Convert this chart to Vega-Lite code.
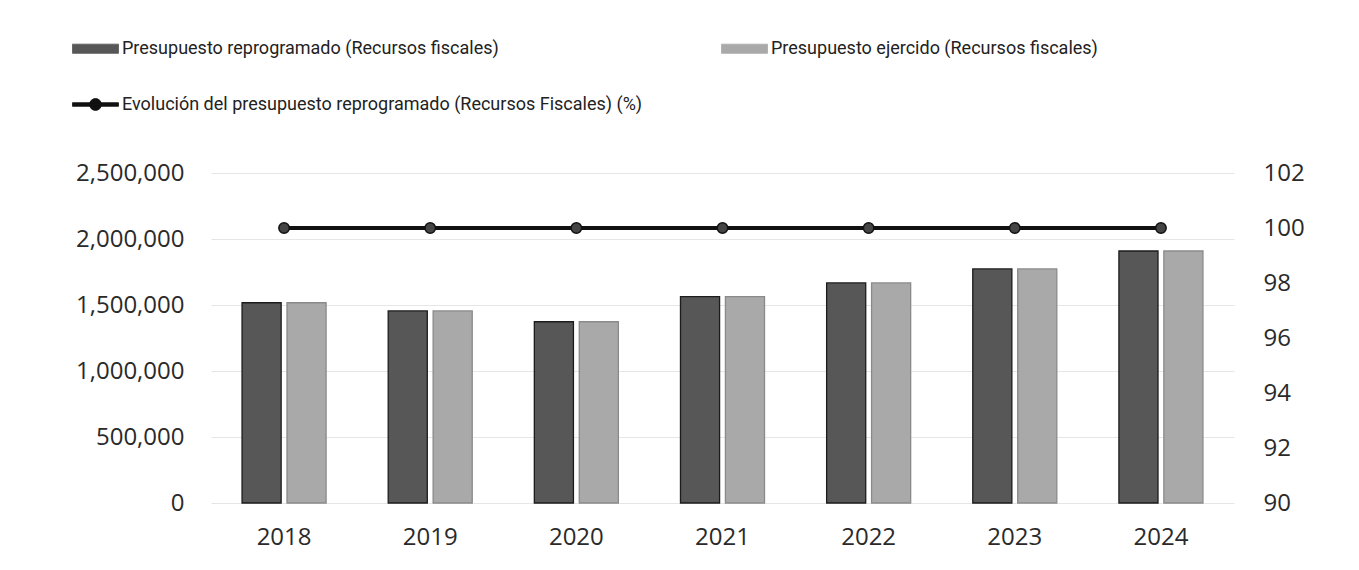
{
  "$schema": "https://vega.github.io/schema/vega-lite/v6.json",
  "width": 1023,
  "height": 330,
  "autosize": {"type": "none"},
  "padding": {"left": 211, "top": 173, "right": 125, "bottom": 67},
  "background": "white",
  "config": {
    "view": {"stroke": null},
    "font": "Roboto",
    "axis": {"labelFont": "Open Sans", "labelColor": "#2a2a2a", "domain": false, "ticks": false, "title": null}
  },
  "datasets": {
    "barras": [
      {"anio": "2018", "serie": "Presupuesto reprogramado (Recursos fiscales)", "valor": 1517000},
      {"anio": "2018", "serie": "Presupuesto ejercido (Recursos fiscales)", "valor": 1517000},
      {"anio": "2019", "serie": "Presupuesto reprogramado (Recursos fiscales)", "valor": 1455000},
      {"anio": "2019", "serie": "Presupuesto ejercido (Recursos fiscales)", "valor": 1455000},
      {"anio": "2020", "serie": "Presupuesto reprogramado (Recursos fiscales)", "valor": 1373000},
      {"anio": "2020", "serie": "Presupuesto ejercido (Recursos fiscales)", "valor": 1373000},
      {"anio": "2021", "serie": "Presupuesto reprogramado (Recursos fiscales)", "valor": 1563000},
      {"anio": "2021", "serie": "Presupuesto ejercido (Recursos fiscales)", "valor": 1563000},
      {"anio": "2022", "serie": "Presupuesto reprogramado (Recursos fiscales)", "valor": 1667000},
      {"anio": "2022", "serie": "Presupuesto ejercido (Recursos fiscales)", "valor": 1667000},
      {"anio": "2023", "serie": "Presupuesto reprogramado (Recursos fiscales)", "valor": 1773000},
      {"anio": "2023", "serie": "Presupuesto ejercido (Recursos fiscales)", "valor": 1773000},
      {"anio": "2024", "serie": "Presupuesto reprogramado (Recursos fiscales)", "valor": 1909000},
      {"anio": "2024", "serie": "Presupuesto ejercido (Recursos fiscales)", "valor": 1909000}
    ],
    "evolucion": [
      {"anio": "2018", "porcentaje": 100},
      {"anio": "2019", "porcentaje": 100},
      {"anio": "2020", "porcentaje": 100},
      {"anio": "2021", "porcentaje": 100},
      {"anio": "2022", "porcentaje": 100},
      {"anio": "2023", "porcentaje": 100},
      {"anio": "2024", "porcentaje": 100}
    ]
  },
  "layer": [
    {
      "data": {"name": "barras"},
      "mark": {"type": "bar", "strokeWidth": 1.3},
      "encoding": {
        "x": {
          "field": "anio", "type": "nominal",
          "scale": {"paddingInner": 0.425, "paddingOuter": 0.2125},
          "axis": {"labelAngle": 0, "labelFontSize": 24, "labelPadding": 22}
        },
        "xOffset": {
          "field": "serie", "type": "nominal",
          "scale": {"domain": ["Presupuesto reprogramado (Recursos fiscales)", "Presupuesto ejercido (Recursos fiscales)"], "paddingInner": 0.13, "paddingOuter": 0}
        },
        "y": {
          "field": "valor", "type": "quantitative",
          "scale": {"domain": [0, 2500000]},
          "axis": {"values": [0, 500000, 1000000, 1500000, 2000000, 2500000], "format": ",.0f", "labelFontSize": 24, "labelPadding": 27, "grid": true, "gridColor": "#e6e6e6", "gridWidth": 1}
        },
        "color": {
          "field": "serie", "type": "nominal",
          "scale": {
            "domain": ["Presupuesto reprogramado (Recursos fiscales)", "Presupuesto ejercido (Recursos fiscales)", "Evolución del presupuesto reprogramado (Recursos  Fiscales) (%)"],
            "range": ["#575757", "#a9a9a9", "#111111"]
          },
          "legend": {
            "orient": "none",
            "legendX": -139,
            "legendY": -148,
            "direction": "horizontal",
            "columns": 2,
            "columnPadding": 72,
            "rowPadding": 23,
            "padding": 0,
            "title": null,
            "symbolSize": 2116,
            "labelOffset": 3,
            "labelFont": "Roboto",
            "labelFontSize": 18,
            "labelColor": "#222222",
            "labelLimit": 700,
            "encode": {
              "symbols": {
                "update": {
                  "shape": {"signal": "substring(datum.value, 0, 4) === 'Evol' ? 'M-1,-0.08H1V0.08H-1Z M0.26,0A0.26,0.26 0 1 1 -0.26,0A0.26,0.26 0 1 1 0.26,0Z' : 'M-1,-0.2H1V0.2H-1Z'"},
                  "fill": {"signal": "scale('color', datum.value)"},
                  "stroke": {"signal": "substring(datum.value, 0, 4) === 'Evol' ? '#111111' : '#333333'"},
                  "strokeWidth": {"value": 0.8},
                  "opacity": {"value": 1}
                }
              }
            }
          }
        },
        "stroke": {
          "field": "serie", "type": "nominal",
          "scale": {"domain": ["Presupuesto reprogramado (Recursos fiscales)", "Presupuesto ejercido (Recursos fiscales)"], "range": ["#1c1c1c", "#8a8a8a"]},
          "legend": null
        }
      }
    },
    {
      "data": {"name": "evolucion"},
      "mark": {"type": "line", "strokeWidth": 4},
      "encoding": {
        "x": {"field": "anio", "type": "nominal"},
        "y": {
          "field": "porcentaje", "type": "quantitative",
          "scale": {"domain": [90, 102]},
          "axis": {"orient": "right", "values": [90, 92, 94, 96, 98, 100, 102], "labelFontSize": 24, "labelPadding": 29, "grid": false}
        },
        "color": {"datum": "Evolución del presupuesto reprogramado (Recursos  Fiscales) (%)"}
      }
    },
    {
      "data": {"name": "evolucion"},
      "mark": {"type": "point", "filled": true, "size": 110, "fill": "#444444", "stroke": "#111111", "strokeWidth": 1.5, "opacity": 1},
      "encoding": {
        "x": {"field": "anio", "type": "nominal"},
        "y": {"field": "porcentaje", "type": "quantitative", "scale": {"domain": [90, 102]}, "axis": null}
      }
    }
  ],
  "resolve": {"scale": {"y": "independent"}}
}
